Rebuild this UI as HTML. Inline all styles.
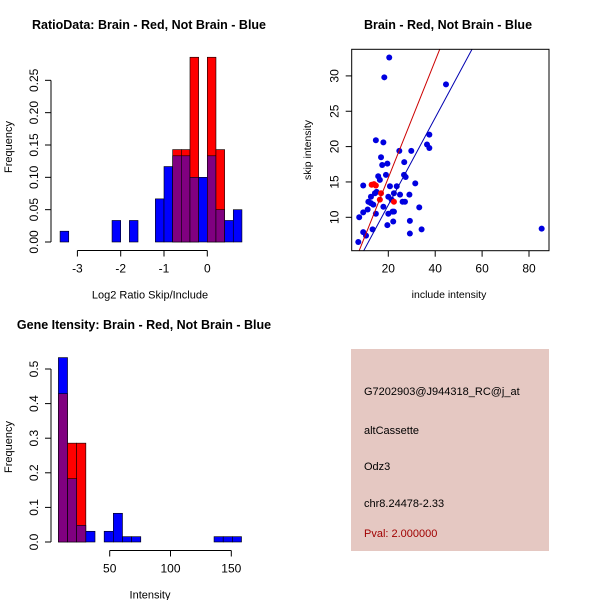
<!DOCTYPE html>
<html><head><meta charset="utf-8"><style>
body{margin:0;background:#fff}
svg{display:block;font-family:"Liberation Sans",sans-serif}
</style></head><body>
<svg id="s" width="600" height="600" viewBox="0 0 600 600">
<rect width="600" height="600" fill="#fff"/>
<g>
<rect x="351" y="349" width="198" height="202" fill="#e5c8c2"/>
<text x="364" y="395" font-size="11">G7202903@J944318_RC@j_at</text>
<text x="364" y="434" font-size="11">altCassette</text>
<text x="364" y="470" font-size="11">Odz3</text>
<text x="364" y="507" font-size="11">chr8.24478-2.33</text>
<text x="364" y="537" font-size="11" fill="#a00000">Pval: 2.000000</text>
</g>
</svg>
<script>
// ---- Histogram 1 data ----
const ratioBinStart = -3.4, ratioBinWidth = 0.2;
const ratioBlue = [0.0167,0,0,0,0,0,0.0333,0,0.0333,0,0,0.0667,0.1167,0.1333,0.1333,0.1,0.1,0.1333,0.05,0.0333,0.05];
const ratioRed  = [0,0,0,0,0,0,0,0,0,0,0,0,0,0.1429,0.1429,0.2857,0,0.2857,0.1429,0,0];
const ratioXTicks = [-3,-2,-1,0];
const ratioYTicks = ["0.00","0.05","0.10","0.15","0.20","0.25"];
// ---- Histogram 2 data ----
const intBinStart = 7.8, intBinWidth = 7.53;
const intBlue = [0.533,0.183,0.048,0.031,0,0.031,0.083,0.0155,0.0155,0,0,0,0,0,0,0,0,0.0155,0.0155,0.0155];
const intRed  = [0.4286,0.2857,0.2857,0,0,0,0,0,0,0,0,0,0,0,0,0,0,0,0,0];
const intXTicks = [50,100,150];
const intYTicks = ["0.0","0.1","0.2","0.3","0.4","0.5"];
// ---- Scatter data ----
const blueX = [7.2,7.6,9.3,9.3,9.3,10.5,11.2,11.5,12.6,12.6,13.3,13.6,14.3,14.7,14.7,15,15.7,16.4,16.9,17.4,17.9,18.3,17.9,19,19.6,19.6,20,20,20.4,20.7,21.4,21.8,22.4,22.1,22.4,23.6,24.7,25,26.1,26.7,26.8,27.1,27.4,29,29.2,29.2,29.8,31.5,33.2,34.2,36.5,37.5,37.5,44.6,85.4];
const blueY = [6.5,10,10.7,14.5,7.9,7.4,11.1,12.2,12.0,12.9,8.3,11.8,13.4,10.5,20.9,13.6,15.8,15.3,18.5,17.4,20.6,29.8,11.5,16,17.6,8.9,10.5,12.9,32.6,14.4,12.5,10.8,10.8,9.4,13.4,14.4,19.4,13.2,12.2,16,17.8,12.2,15.7,13.2,9.5,7.7,19.4,14.8,11.4,8.3,20.3,21.7,19.8,28.8,8.4];
const redX = [12.9,13.9,14.7,16.9,16.4,22.4];
const redY = [14.6,14.7,14.5,13.4,12.5,12.2];
const redFit = [-1.0,0.829];
const blueFit = [-0.6,0.617];
const scXTicks = [20,40,60,80];
const scYTicks = [10,15,20,25,30];

const NS="http://www.w3.org/2000/svg", svg=document.getElementById('s');
function mk(tag,attrs,parent){const e=document.createElementNS(NS,tag);for(const k in attrs)e.setAttribute(k,attrs[k]);(parent||svg).appendChild(e);return e;}
function txt(x,y,s,size,extra,parent){const t=mk('text',Object.assign({x:x,y:y,'font-size':size,'text-anchor':'middle'},extra||{}),parent);t.textContent=s;return t;}

function hist(cfg){
  const g=mk('g',{});
  
  
  const xs=v=>cfg.x0px+(v-cfg.x0)*cfg.xk, ys=v=>cfg.y0px-v*cfg.yk;
  cfg.blue.forEach((b,i)=>{
    const r=cfg.red[i], lo=cfg.binStart+i*cfg.binWidth, hi=lo+cfg.binWidth;
    const x1=xs(lo), w=xs(hi)-x1, mx=Math.max(b,r), mn=Math.min(b,r);
    if(mx<=0) return;
    const top=mk('rect',{x:x1,y:ys(mx),width:w,height:ys(0)-ys(mx),fill:b>=r?'#0000ff':'#ff0000',stroke:'#000','stroke-width':0.6},g);
    
    
    if(mn>0){
      const p=mk('rect',{x:x1,y:ys(mn),width:w,height:ys(0)-ys(mn),fill:'#800080',stroke:'#000','stroke-width':0.6},g);
      
      
    }
  });
  const yv=cfg.yTicks.map(Number);
  mk('line',{x1:cfg.axX,x2:cfg.axX,y1:ys(yv[0]),y2:ys(yv[yv.length-1]),stroke:'#000'},g);
  yv.forEach((v,i)=>{mk('line',{x1:cfg.axX-6,x2:cfg.axX,y1:ys(v),y2:ys(v),stroke:'#000'},g);
    const t=txt(0,0,cfg.yTicks[i],12,{transform:`translate(${cfg.axX-13},${ys(v)}) rotate(-90)`},g);
    
    });
  mk('line',{x1:xs(cfg.xTicks[0]),x2:xs(cfg.xTicks[cfg.xTicks.length-1]),y1:cfg.axY,y2:cfg.axY,stroke:'#000'},g);
  cfg.xTicks.forEach(v=>{mk('line',{x1:xs(v),x2:xs(v),y1:cfg.axY,y2:cfg.axY+6,stroke:'#000'},g);
    const t=txt(xs(v),cfg.axY+22,String(v),12,{},g);
    
    });
  const xt=txt(cfg.xTitleX,cfg.axY+48,cfg.xTitle,11,{},g);
  
  
  const yt=txt(0,0,'Frequency',11,{transform:`translate(12,${cfg.yTitleY}) rotate(-90)`},g);
  
  
  const tt=txt(cfg.titleX,cfg.titleY,cfg.title,12.5,{'font-weight':'bold'},g);
  
  
}
hist({name:'ratio-histogram',blue:ratioBlue,red:ratioRed,binStart:ratioBinStart,binWidth:ratioBinWidth,
  x0:0,x0px:207.3,xk:43.3,y0px:242,yk:646.7,axX:51,axY:250.5,xTicks:ratioXTicks,yTicks:ratioYTicks,
  xTitle:'Log2 Ratio Skip/Include',xTitleX:150,yTitleY:147,title:'RatioData: Brain - Red, Not Brain - Blue',titleX:149,titleY:29});
hist({name:'intensity-histogram',blue:intBlue,red:intRed,binStart:intBinStart,binWidth:intBinWidth,
  x0:50,x0px:109.7,xk:1.216,y0px:542,yk:346,axX:51,axY:550.5,xTicks:intXTicks,yTicks:intYTicks,
  xTitle:'Intensity',xTitleX:150,yTitleY:447,title:'Gene Itensity: Brain - Red, Not Brain - Blue',titleX:144,titleY:329});

(function(){
  const g=mk('g',{});
  
  
  const L=351.7,R=549,T=49.3,B=250.7;
  const xs=v=>388.3+(v-20)*2.345, ys=v=>217.3-(v-10)*7.07;
  const clip=mk('clipPath',{id:'cp'},g); mk('rect',{x:L,y:T,width:R-L,height:B-T},clip);
  blueX.forEach((x,i)=>{const c=mk('circle',{cx:xs(x),cy:ys(blueY[i]),r:3,fill:'#0000e0'},g);
    
    });
  redX.forEach((x,i)=>{const c=mk('circle',{cx:xs(x),cy:ys(redY[i]),r:3,fill:'#ff0000'},g);
    
    });
  [[redFit,'#cc0000','red-fit-line'],[blueFit,'#0000b0','blue-fit-line']].forEach(([f,col,n])=>{
    const l=mk('line',{x1:xs(0),y1:ys(f[0]),x2:xs(100),y2:ys(f[0]+f[1]*100),stroke:col,'stroke-width':1,'clip-path':'url(#cp)'},g);
    
    });
  mk('rect',{x:L,y:T,width:R-L,height:B-T,fill:'none',stroke:'#000'},g);
  scXTicks.forEach(v=>{mk('line',{x1:xs(v),x2:xs(v),y1:B,y2:B+6,stroke:'#000'},g);
    const t=txt(xs(v),B+22,String(v),12,{},g);
    
    });
  scYTicks.forEach(v=>{mk('line',{x1:L-6,x2:L,y1:ys(v),y2:ys(v),stroke:'#000'},g);
    const t=txt(0,0,String(v),12,{transform:`translate(${L-13},${ys(v)}) rotate(-90)`},g);
    
    });
  const xt=txt(449,298,'include intensity',10.5,{},g);
  
  
  const yt=txt(0,0,'skip intensity',10.5,{transform:'translate(311,150) rotate(-90)'},g);
  
  
  const tt=txt(448,29,'Brain - Red, Not Brain - Blue',12.5,{'font-weight':'bold'},g);
  
  
})();
</script>
</body></html>
